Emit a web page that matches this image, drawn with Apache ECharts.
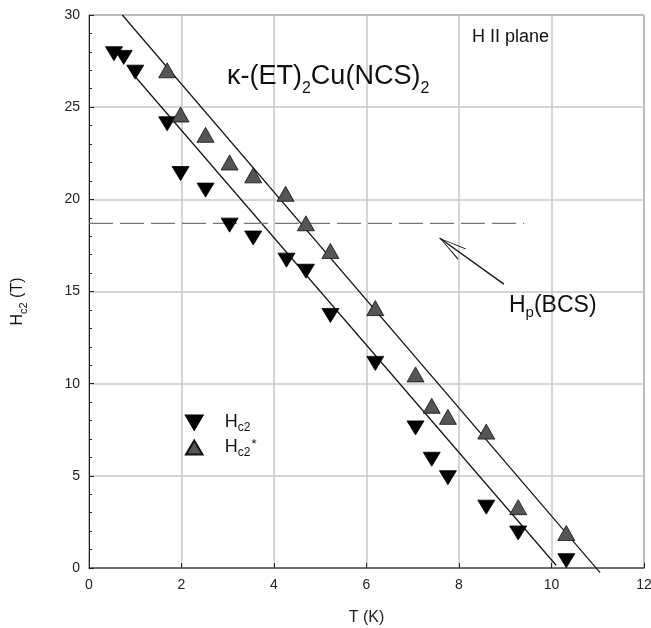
<!DOCTYPE html>
<html>
<head>
<meta charset="utf-8">
<script src="https://cdn.jsdelivr.net/npm/echarts@6/dist/echarts.min.js"></script>
<style>
  html, body { margin: 0; padding: 0; background: #fff; }
  #chart { width: 651px; height: 628px; }
</style>
</head>
<body>
<div id="chart"></div>
<script>
// Hc2 (down triangles)
const tempHc2 = [0.54, 0.75, 1.0, 1.69, 1.98, 2.52, 3.04, 3.55, 4.27, 4.69, 5.22, 6.19, 7.06, 7.41, 7.76, 8.59, 9.28, 10.32]
const valHc2 = [27.9, 27.7, 26.9, 24.1, 21.4, 20.5, 18.6, 17.9, 16.7, 16.1, 13.7, 11.1, 7.6, 5.9, 4.9, 3.3, 1.9, 0.4]
// Hc2* (up triangles)
const tempHc2s = [1.69, 1.98, 2.52, 3.04, 3.55, 4.25, 4.69, 5.22, 6.19, 7.06, 7.41, 7.76, 8.59, 9.28, 10.32]
const valHc2s = [27.0, 24.6, 23.5, 22.0, 21.3, 20.3, 18.7, 17.2, 14.1, 10.5, 8.8, 8.2, 7.4, 3.3, 1.9]
// straight fits, Pauli limit, arrow
const fitHc2 = [[0.95, 26.8], [10.1, 0.15]]
const fitHc2s = [[0.72, 30.0], [11.05, -0.25]]
const pauliLine = [[0, 18.7], [9.41, 18.7]]
const arrowLine = [[8.97, 15.4], [7.58, 17.9]]
const xTicks = { min: 0, max: 12, step: 2 }
const yTicks = { min: 0, max: 30, step: 5 }

const font = '"Liberation Sans", Arial, Helvetica, sans-serif'
const zip = (xs, ys) => xs.map((x, i) => [x, ys[i]])

const subRich = (big, small, drop) => ({
  b: { fontSize: big, lineHeight: big + 1, verticalAlign: 'top', fontFamily: font, color: '#111' },
  s: { fontSize: small, lineHeight: small, verticalAlign: 'top', padding: [drop, 0, 0, 0], fontFamily: font, color: '#111' },
  p: { fontSize: small + 1, lineHeight: small + 1, verticalAlign: 'top', padding: [0, 0, 0, 1], fontFamily: font, color: '#111' }
})

const chart = echarts.init(document.getElementById('chart'))
chart.setOption({
  animation: false,
  backgroundColor: '#fff',
  grid: {
    left: 89, right: 7, top: 15, bottom: 60,
    outerBoundsMode: 'none',
    show: true, borderColor: '#222', borderWidth: 1
  },
  title: [
    {
      text: '{b|κ-(ET)}{s|2}{b|Cu(NCS)}{s|2}',
      left: 227, top: 63, padding: 0,
      textStyle: { fontWeight: 'normal', rich: subRich(27, 16, 18) }
    },
    {
      text: 'H II plane',
      left: 472, top: 28, padding: 0,
      textStyle: { fontSize: 18, fontWeight: 'normal', color: '#111', fontFamily: font }
    },
    {
      text: '{b|H}{s|p}{b|(BCS)}',
      left: 509, top: 294, padding: 0,
      textStyle: { fontWeight: 'normal', rich: subRich(23, 15, 11) }
    }
  ],
  legend: {
    orient: 'vertical',
    left: 185, top: 413, padding: 0,
    itemWidth: 17, itemHeight: 14, itemGap: 4,
    data: [
      { name: 'Hc2', icon: 'path://M0,0L20,0L10,17Z' },
      { name: 'Hc2*', icon: 'path://M10,0L20,17L0,17Z' }
    ],
    formatter: n => n === 'Hc2' ? '{b|H}{s|c2}' : '{b|H}{s|c2}{p|*}',
    textStyle: {
      rich: Object.assign(subRich(18, 12, 9), {
        b: { fontSize: 18, lineHeight: 19, verticalAlign: 'top', padding: [0, 0, 0, 17], fontFamily: font, color: '#111' }
      })
    }
  },
  xAxis: {
    type: 'value',
    min: xTicks.min, max: xTicks.max, interval: xTicks.step,
    name: 'T (K)', nameLocation: 'middle', nameGap: 42,
    nameTextStyle: { fontSize: 16, color: '#222', fontFamily: font },
    axisLine: { lineStyle: { color: '#555', width: 1.5 } },
    axisTick: { inside: true, length: 5, lineStyle: { color: '#222' } },
    axisLabel: { fontSize: 14, color: '#222', margin: 10, fontFamily: font },
    splitLine: { lineStyle: { color: '#c8c8c8', width: 1.5 } }
  },
  yAxis: {
    type: 'value',
    min: yTicks.min, max: yTicks.max, interval: yTicks.step,
    name: '{b|H}{s|c2}{b| (T)}', nameLocation: 'middle', nameGap: 62, nameRotate: 90,
    nameTextStyle: { rich: subRich(16, 11, 8), padding: [0, 20, 0, 0] },
    axisLine: { show: true, lineStyle: { color: '#222', width: 1 } },
    axisTick: { inside: true, length: 5, lineStyle: { color: '#222' } },
    minorTick: { show: true, splitNumber: 5, length: 3, lineStyle: { color: '#222' } },
    axisLabel: { fontSize: 14, color: '#222', margin: 9, fontFamily: font },
    splitLine: { lineStyle: { color: '#c8c8c8', width: 1.5 } }
  },
  series: [
    {
      name: 'fit1', type: 'line', data: fitHc2, symbol: 'none', z: 2,
      lineStyle: { color: '#111', width: 1.2 }
    },
    {
      name: 'fit2', type: 'line', data: fitHc2s, symbol: 'none', z: 2, clip: false,
      lineStyle: { color: '#111', width: 1.2 }
    },
    {
      name: 'Hp', type: 'line', data: pauliLine, symbol: 'none', z: 2,
      lineStyle: { color: '#777', width: 1.2, type: [24, 7] }
    },
    {
      name: 'arrow', type: 'line', data: [], z: 3,
      markLine: {
        silent: true,
        symbol: ['none', 'path://M7,0L14,27.5L12.8,27.5L7,2.6L1.2,27.5L0,27.5Z'],
        symbolSize: [14, 27.5],
        symbolOffset: [0, [0, 13.75]],
        label: { show: false },
        lineStyle: { color: '#111', width: 1.3, type: 'solid' },
        data: [[{ coord: arrowLine[0] }, { coord: arrowLine[1] }]]
      }
    },
    {
      name: 'Hc2', type: 'scatter', data: zip(tempHc2, valHc2), z: 5,
      symbol: 'triangle', symbolRotate: 180, symbolSize: [17, 14],
      itemStyle: { color: '#000', borderColor: '#000', borderWidth: 0.8, opacity: 1 }
    },
    {
      name: 'Hc2*', type: 'scatter', data: zip(tempHc2s, valHc2s), z: 5,
      symbol: 'triangle', symbolSize: [17, 15],
      itemStyle: { color: '#555', borderColor: '#111', borderWidth: 0.8, opacity: 1 }
    }
  ]
})
</script>
</body>
</html>
